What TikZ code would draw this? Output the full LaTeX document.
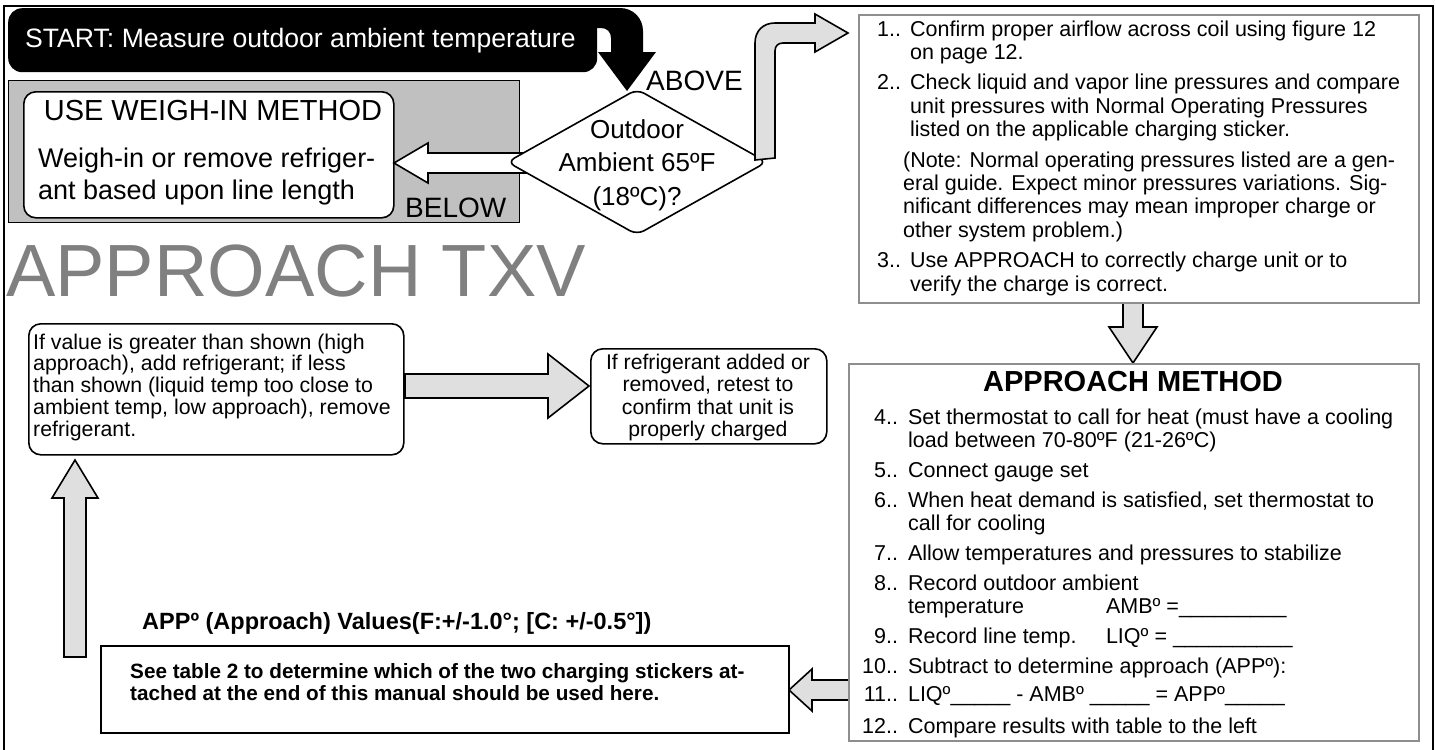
\documentclass[tikz,border=0pt]{standalone}
\usepackage{fontspec}
\setmainfont{Liberation Sans}
\usetikzlibrary{shapes.geometric,calc}
\definecolor{panelgray}{HTML}{C0C0C0}
\definecolor{arrowgray}{HTML}{DFDFDF}
\definecolor{boxgray}{HTML}{8E8E8E}
\definecolor{txvgray}{HTML}{808080}
\newcommand\fs[2]{\fontsize{#1}{#2}\selectfont}
\newcommand\linesL[1]{\begin{tabular}[t]{@{}l@{}}#1\end{tabular}}
\newcommand\linesC[1]{\begin{tabular}[t]{@{}c@{}}#1\end{tabular}}
\tikzset{
  blockarrow/.style={draw=black, line width=1.6pt, fill=arrowgray, line join=miter},
  whitearrow/.style={draw=black, line width=1.6pt, fill=white, line join=miter},
  graybox/.style={draw=boxgray, line width=2.2pt, fill=white, inner sep=0, anchor=north west},
  roundbox/.style={draw=black, line width=1.6pt, rounded corners=12pt, fill=white, inner sep=0, anchor=north west},
  txt/.style={inner sep=0, anchor=base west},
  ctxt/.style={inner sep=0, anchor=base},
}
\begin{document}
\begin{tikzpicture}[x=1pt,y=-1pt]
\useasboundingbox (0,0) rectangle (1436,750);
% outer frame
\draw[line width=2pt] (4,760) -- (4,6) -- (1433,6) -- (1433,760);

% start box and hook arrow
\node[fill=black, rounded corners=14pt, minimum width=589pt, minimum height=64pt, inner sep=0, anchor=north west] (start) at (8,8) {};
\node[txt, text=white, font=\fs{26.6}{30}] (starttext) at (25,47) {START: Measure outdoor ambient temperature};

% gray panel and weigh-in box
\node[draw=black, line width=1.2pt, fill=panelgray, minimum width=511pt, minimum height=142pt, anchor=north west, inner sep=0] (panel) at (8,80) {};
\node[roundbox, minimum width=370pt, minimum height=126pt] (weigh) at (23,91) {};
\node[ctxt, font=\fs{29}{32}] (weightitle) at (213,120) {USE WEIGH-IN METHOD};
\node[txt, font=\fs{27}{32}] (weightext) at (38,167) {\linesL{Weigh-in or remove refriger-\\ant based upon line length}};
\node[txt, font=\fs{28}{30}] (below) at (405,217) {BELOW};

% white arrow to weigh-in box
\draw[whitearrow] (540,153) -- (428,153) -- (428,143) -- (394,163) -- (428,183) -- (428,173) -- (540,173) -- cycle;

% decision diamond
\node[draw=black, line width=1.6pt, fill=white, diamond, minimum width=260pt, minimum height=146pt, inner sep=0, rounded corners=8pt] (dec) at (637,162) {};
\node[ctxt, font=\fs{26}{33.5}] (dectext) at (637,138) {\linesC{Outdoor\\Ambient 65ºF\\(18ºC)?}};
\node[txt, font=\fs{28}{30}] (above) at (646,90) {ABOVE};

% hook arrow from start to decision
\fill (560,8) -- (620,8) .. controls (633,8) and (643,18) .. (643,31) -- (643,52) -- (656,52) -- (627,91) -- (598,52) -- (611,52) -- (611,38) .. controls (611,32) and (607,28) .. (601,28) -- (560,28) -- cycle;

% bent arrow from decision to steps box
\draw[blockarrow] (755,160) -- (755,43) .. controls (755,31) and (763,23) .. (775,23) -- (815,23) -- (815,14) -- (848,33) -- (815,52) -- (815,43) -- (783,43) .. controls (778,43) and (775,46) .. (775,51) -- (775,158) -- cycle;

% APPROACH TXV
\node[txt, font=\fs{74}{80}, text=txvgray] (txv) at (6,296) {APPROACH TXV};

% down arrow from steps box to approach box
\draw[blockarrow] (1123,300) -- (1123,327) -- (1109,327) -- (1133,363) -- (1157,327) -- (1143,327) -- (1143,300) -- cycle;

% steps box
\node[graybox, minimum width=560pt, minimum height=288pt] (stepsbox) at (858,14) {};
\node[txt, font=\fs{21.5}{23.4}] (steps) at (877,36) {\begin{tabular}[t]{@{}r@{\hspace{9pt}}l@{}}
1..& Confirm proper airflow across coil using figure 12\\
& on page 12.\\[7pt]
2..& Check liquid and vapor line pressures and compare\\
& unit pressures with Normal Operating Pressures\\
& listed on the applicable charging sticker.\\[7pt]
& \hspace{-7pt}(Note: Normal operating pressures listed are a gen-\\
& \hspace{-7pt}eral guide. Expect minor pressures variations. Sig-\\
& \hspace{-7pt}nificant differences may mean improper charge or\\
& \hspace{-7pt}other system problem.)\\[7pt]
3..& Use APPROACH to correctly charge unit or to\\
& verify the charge is correct.
\end{tabular}};

% left arrow from approach box to see-table box
\draw[blockarrow] (850,680) -- (812,680) -- (812,669) -- (789,690) -- (812,711) -- (812,700) -- (850,700) -- cycle;

% approach box
\node[graybox, minimum width=570pt, minimum height=377pt] (appbox) at (848,363) {};
\node[ctxt, font=\bfseries\fs{29}{32}] (apptitle) at (1133,391) {APPROACH METHOD};
\node[txt, font=\fs{21.5}{23}] (appsteps) at (862,424) {\begin{tabular}[t]{@{}r@{\hspace{10pt}}l@{}}
4..& Set thermostat to call for heat (must have a cooling\\
& load between 70-80ºF (21-26ºC)\\[7pt]
5..& Connect gauge set\\[7pt]
6..& When heat demand is satisfied, set thermostat to\\
& call for cooling\\[7pt]
7..& Allow temperatures and pressures to stabilize\\[7pt]
8..& Record outdoor ambient\\
& \makebox[198pt][l]{temperature}AMBº =\_\_\_\_\_\_\_\_\_\\[7pt]
9..& \makebox[198pt][l]{Record line temp.}LIQº = \_\_\_\_\_\_\_\_\_\_\\[7pt]
10..& Subtract to determine approach (APPº):\\[5pt]
11..& LIQº\_\_\_\_\_ - AMBº \_\_\_\_\_ = APPº\_\_\_\_\_\\[9pt]
12..& Compare results with table to the left
\end{tabular}};

% up arrow to if-value box
\draw[blockarrow] (64,657) -- (64,498) -- (52,498) -- (75,460) -- (98,498) -- (86,498) -- (86,657) -- cycle;

% right arrow from if-value box to refrigerant box
\draw[blockarrow] (405,374) -- (548,374) -- (548,354) -- (589,386) -- (548,418) -- (548,398) -- (405,398) -- cycle;

% if-value box
\node[roundbox, minimum width=375pt, minimum height=131pt] (ifvalue) at (28,323) {};
\node[txt, font=\fs{21.3}{21.5}] (ifvaluetext) at (33,349) {\linesL{If value is greater than shown (high\\approach), add refrigerant; if less\\than shown (liquid temp too close to\\ambient temp, low approach), remove\\refrigerant.}};

% refrigerant box
\node[roundbox, minimum width=236pt, minimum height=95pt] (refrig) at (590,348) {};
\node[ctxt, font=\fs{21.2}{22.6}] (refrigtext) at (708,369) {\linesC{If refrigerant added or\\removed, retest to\\confirm that unit is\\properly charged}};

% approach values label and see-table box
\node[txt, font=\bfseries\fs{23.5}{26}] (applabel) at (142,629) {APPº (Approach) Values(F:+/-1.0°; [C: +/-0.5°])};
\node[draw=black, line width=2pt, fill=white, minimum width=688pt, minimum height=87pt, anchor=north west, inner sep=0] (seetable) at (100,645) {};
\node[txt, font=\bfseries\fs{20.7}{22}] (seetext) at (130,678) {\linesL{See table 2 to determine which of the two charging stickers at-\\tached at the end of this manual should be used here.}};
\end{tikzpicture}
\end{document}
